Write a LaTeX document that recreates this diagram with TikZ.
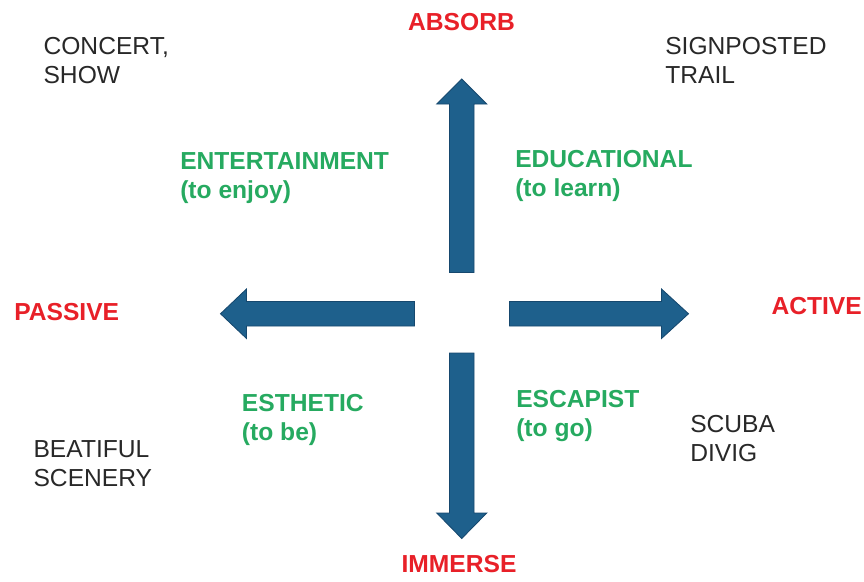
\documentclass[tikz,border=0pt]{standalone}
\usepackage{fontspec}
\setmainfont{Liberation Sans}
\definecolor{arrowblue}{RGB}{30,96,140}
\definecolor{arrowedge}{RGB}{22,72,110}
\definecolor{axisred}{RGB}{232,32,40}
\definecolor{typegreen}{RGB}{38,170,96}
\definecolor{textgray}{RGB}{40,40,40}
\tikzset{
  bigarrow/.style={fill=arrowblue,draw=arrowedge,line width=0.6pt,line join=miter},
  axislabel/.style={text=axisred,font=\fontsize{17.5}{20.5}\selectfont\bfseries,inner sep=0pt},
  typelabel/.style={text=typegreen,font=\fontsize{17.5}{20.5}\selectfont\bfseries,align=left,anchor=base west,inner sep=0pt},
  example/.style={text=textgray,font=\fontsize{17.5}{20.5}\selectfont,align=left,anchor=base west,inner sep=0pt}
}
\begin{document}
\begin{tikzpicture}[x=0.025cm,y=-0.025cm]
        \useasboundingbox (0,0) rectangle (864,581);
        %% up arrow
        \draw[bigarrow] (449.5,272.5) -- (449.5,104) -- (436.75,104) -- (461.75,79) -- (486.75,104) -- (474,104) -- (474,272.5) -- cycle;
        %% down arrow
        \draw[bigarrow] (449.5,353) -- (449.5,513) -- (436.75,513) -- (461.75,538.5) -- (486.75,513) -- (474,513) -- (474,353) -- cycle;
        %% left arrow
        \draw[bigarrow] (414.5,301.5) -- (246.5,301.5) -- (246.5,289) -- (220.5,313.75) -- (246.5,338.5) -- (246.5,326) -- (414.5,326) -- cycle;
        %% right arrow
        \draw[bigarrow] (509.5,301.5) -- (661.5,301.5) -- (661.5,289) -- (688.5,313.75) -- (661.5,338.5) -- (661.5,326) -- (509.5,326) -- cycle;
        %% axis ends
        \node[axislabel] (absorb) at (461.5,22.5) {ABSORB};
        \node[axislabel] (immerse) at (459,564.5) {IMMERSE};
        \node[axislabel] (passive) at (66.7,311.7) {PASSIVE};
        \node[axislabel] (active) at (816.7,306) {ACTIVE};
        %% realms (anchored at the baseline of the last line)
        \node[typelabel] (entertainment) at (180,198) {ENTERTAINMENT\\(to enjoy)};
        \node[typelabel] (educational) at (515,196.7) {EDUCATIONAL\\(to learn)};
        \node[typelabel] (esthetic) at (241.7,440) {ESTHETIC\\(to be)};
        \node[typelabel] (escapist) at (516,436.7) {ESCAPIST\\(to go)};
        %% examples
        \node[example] (concert) at (43.3,83) {CONCERT,\\SHOW};
        \node[example] (trail) at (665,83.3) {SIGNPOSTED\\TRAIL};
        \node[example] (scenery) at (33.3,486.7) {BEATIFUL\\SCENERY};
        \node[example] (scuba) at (690,461.7) {SCUBA\\DIVIG};
    \end{tikzpicture}
\end{document}
